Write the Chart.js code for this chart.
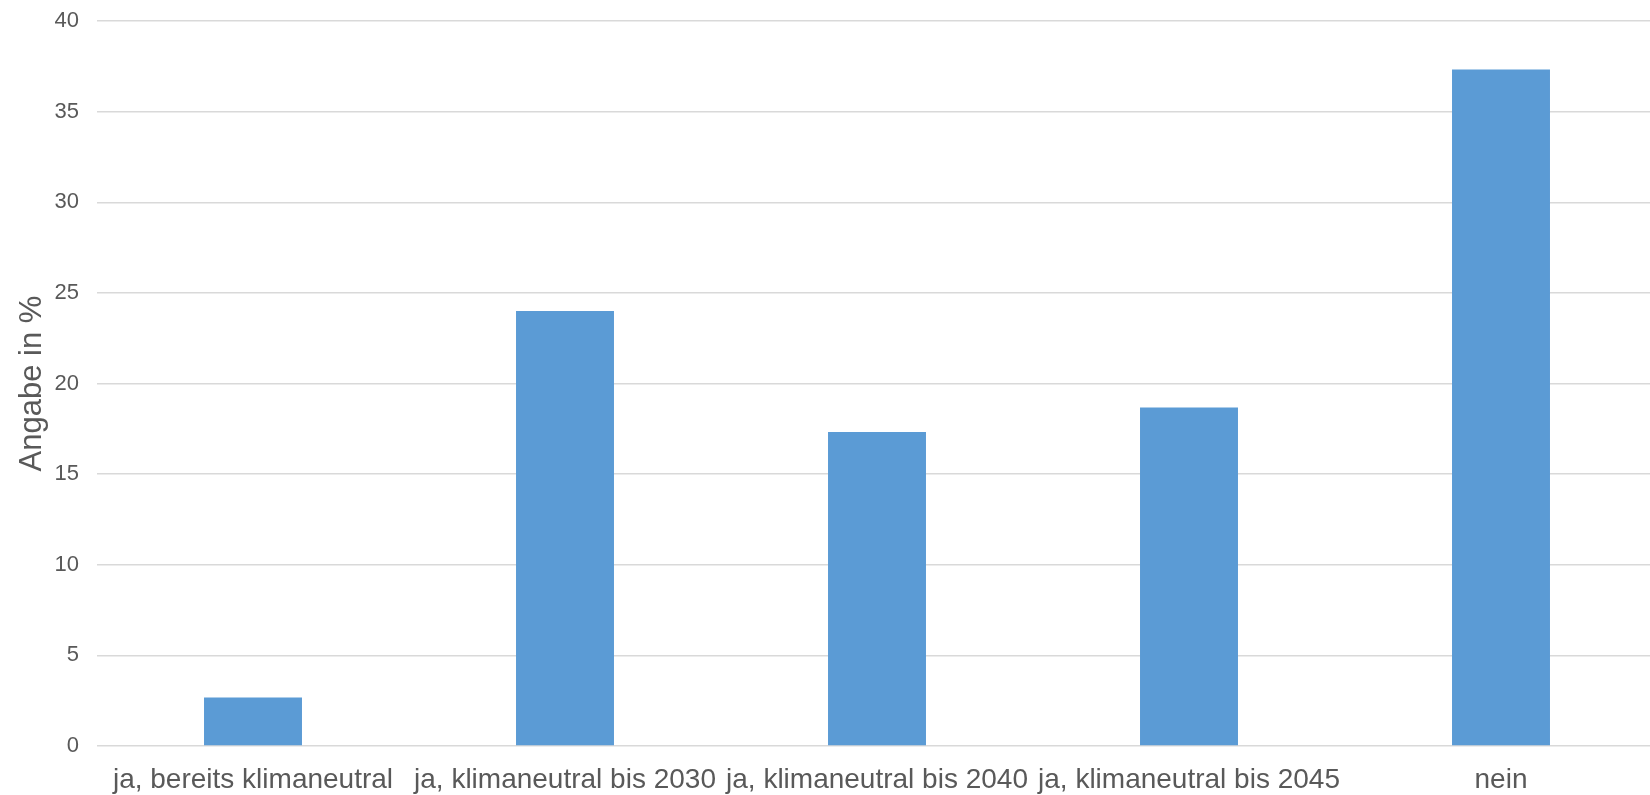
<!DOCTYPE html>
<html>
<head>
<meta charset="UTF-8" />
<script src="https://cdn.jsdelivr.net/npm/chart.js"></script>
<style>
  html, body { margin: 0; padding: 0; background: #fff; overflow: hidden; }
  #wrap { width: 1650px; height: 795px; overflow: hidden; }
</style>
</head>
<body>
<div id="wrap"><canvas id="chart" width="1657" height="795"></canvas></div>
<script>
const categories = [
  "ja, bereits klimaneutral",
  "ja, klimaneutral bis 2030",
  "ja, klimaneutral bis 2040",
  "ja, klimaneutral bis 2045",
  "nein"
];
const shares = [2.67, 24.0, 17.33, 18.67, 37.33];
const yTitle = "Angabe in %";

const grey = "#595959";

// plot runs a few px past the right edge, like the original (cropped) chart
new Chart(document.getElementById("chart"), {
  type: "bar",
  data: {
    labels: categories,
    datasets: [{
      data: shares,
      backgroundColor: "#5B9BD5",
      borderWidth: 0,
      categoryPercentage: 1,
      barPercentage: 0.314
    }]
  },
  options: {
    responsive: false,
    animation: false,
    layout: { padding: { top: 21, right: 0, left: 0, bottom: 0 }, autoPadding: false },
    plugins: { legend: { display: false }, tooltip: { enabled: false } },
    scales: {
      x: {
        grid: { display: false, drawTicks: false },
        border: { display: false },
        ticks: {
          color: grey,
          font: { family: "'Liberation Sans', Arial, sans-serif", size: 28 },
          padding: 17,
          maxRotation: 0,
          autoSkip: false
        },
        afterFit: (s) => { s.height = 49; s.paddingLeft = 0; s.paddingRight = 0; }
      },
      y: {
        min: 0,
        max: 40,
        grid: { color: "#d9d9d9", lineWidth: 1.5, drawTicks: false },
        border: { display: false },
        ticks: {
          stepSize: 5,
          color: grey,
          font: { family: "'Liberation Sans', Arial, sans-serif", size: 22 },
          padding: 18
        },
        title: {
          display: true,
          text: yTitle,
          color: grey,
          font: { family: "'Liberation Sans', Arial, sans-serif", size: 31 },
          padding: { top: 14, bottom: 0 }
        },
        afterFit: (s) => { s.width = 97; s.paddingTop = 0; s.paddingBottom = 0; }
      }
    }
  }
});
</script>
</body>
</html>
